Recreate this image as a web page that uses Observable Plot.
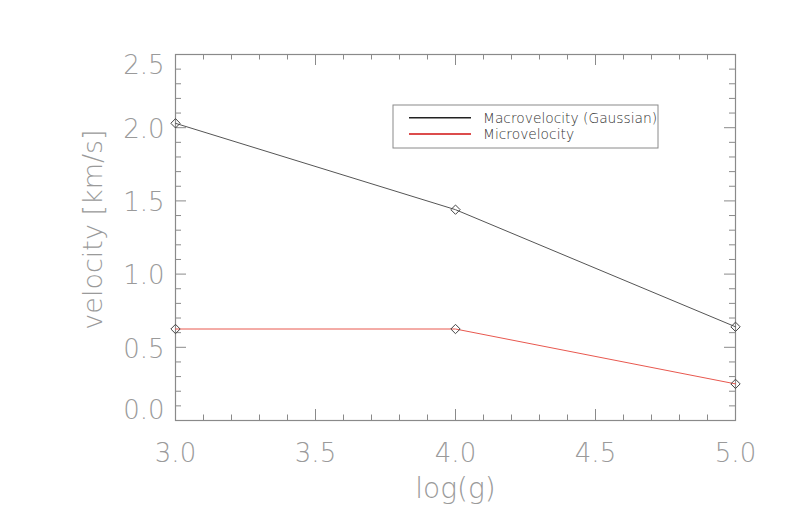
<!DOCTYPE html>
<html><head><meta charset="utf-8">
<script src="https://cdn.jsdelivr.net/npm/d3@7"></script>
<script src="https://cdn.jsdelivr.net/npm/@observablehq/plot@0.6"></script>
<style>body{margin:0;background:#fff}#chart{width:786px;height:531px}</style>
</head><body><div id="chart"></div>
<script>
// ---- data ----
const logg = [3.0, 4.0, 5.0];
const macroVel = [2.03, 1.44, 0.64];
const microVel = [0.625, 0.625, 0.25];
const seriesNames = ["Macrovelocity (Gaussian)", "Microvelocity"];
const seriesColors = ["#555555", "#e8584f"];
const xMajor = [3.0, 3.5, 4.0, 4.5, 5.0];
const xMinor = [3.1, 3.2, 3.3, 3.4, 3.6, 3.7, 3.8, 3.9, 4.1, 4.2, 4.3, 4.4, 4.6, 4.7, 4.8, 4.9];
const yMajor = [0.0, 0.5, 1.0, 1.5, 2.0, 2.5];
const yMinor = [0.1, 0.2, 0.3, 0.4, 0.6, 0.7, 0.8, 0.9, 1.1, 1.2, 1.3, 1.4, 1.6, 1.7, 1.8, 1.9, 2.1, 2.2, 2.3, 2.4];
const xTitle = "log(g)";
const yTitle = "velocity [km/s]";

const macro = logg.map((x, i) => ({x, y: macroVel[i]}));
const micro = logg.map((x, i) => ({x, y: microVel[i]}));

const W = 786, H = 531, mL = 175, mR = 51, mT = 54, mB = 111;
const pw = W - mL - mR, ph = H - mT - mB;
const axisCol = "#8a8a8a";
const font = {fontFamily: "'DejaVu Sans', sans-serif", fontWeight: 200, fill: "#9a9a9a"};

const plot = Plot.plot({
  width: W, height: H,
  marginLeft: mL, marginRight: mR, marginTop: mT, marginBottom: mB,
  x: {domain: [3, 5]},
  y: {domain: [0, 2.5]},
  style: {background: "#fff", fontFamily: "'DejaVu Sans', sans-serif"},
  marks: [
    // ticks on all four sides, pointing inward
    Plot.tickX(xMinor, {x: d => d, insetTop: ph - 5.5, stroke: axisCol}),
    Plot.tickX(xMinor, {x: d => d, insetBottom: ph - 5.5, stroke: axisCol}),
    Plot.tickX(xMajor, {x: d => d, insetTop: ph - 11, stroke: axisCol}),
    Plot.tickX(xMajor, {x: d => d, insetBottom: ph - 11, stroke: axisCol}),
    Plot.tickY(yMinor, {y: d => d, insetRight: pw - 6, stroke: axisCol}),
    Plot.tickY(yMinor, {y: d => d, insetLeft: pw - 6, stroke: axisCol}),
    Plot.tickY(yMajor, {y: d => d, insetRight: pw - 11, stroke: axisCol}),
    Plot.tickY(yMajor, {y: d => d, insetLeft: pw - 11, stroke: axisCol}),
    Plot.frame({stroke: axisCol, strokeWidth: 1.2}),
    // tick labels
    Plot.axisX(xMajor, {tickSize: 0, tickPadding: 23, fontSize: 26, label: null, tickFormat: d3.format(".1f"), ...font}),
    Plot.axisY(yMajor.slice(1, 5), {tickSize: 0, tickPadding: 11, fontSize: 26, label: null, dy: 2, tickFormat: d3.format(".1f"), ...font}),
    Plot.axisY([yMajor[0]], {tickSize: 0, tickPadding: 11, fontSize: 26, label: null, dy: -10, tickFormat: d3.format(".1f"), ...font}),
    Plot.axisY([yMajor[5]], {tickSize: 0, tickPadding: 11, fontSize: 26, label: null, dy: 11, tickFormat: d3.format(".1f"), ...font}),
    // axis titles
    Plot.text([xTitle], {text: d => d, frameAnchor: "bottom", dy: 69, fontSize: 28, lineAnchor: "middle", textAnchor: "middle", ...font}),
    Plot.text([yTitle], {text: d => d, frameAnchor: "left", dx: -82, dy: -8, rotate: -90, fontSize: 27, lineAnchor: "middle", textAnchor: "middle", ...font}),
    // data
    Plot.line(macro, {x: "x", y: "y", stroke: seriesColors[0], strokeWidth: 1}),
    Plot.line(micro, {x: "x", y: "y", stroke: seriesColors[1], strokeWidth: 1}),
    Plot.dot(macro, {x: "x", y: "y", symbol: "diamond2", r: 4.2, stroke: "#444", strokeWidth: 1, fill: "none"}),
    Plot.dot(micro, {x: "x", y: "y", symbol: "diamond2", r: 4.2, stroke: "#444", strokeWidth: 1, fill: "none"})
  ]
});

// legend box inside plot
const svg = d3.select(plot);
const lg = svg.append("g").attr("transform", "translate(393,105)");
lg.append("rect").attr("width", 265).attr("height", 43).attr("fill", "#fff").attr("stroke", axisCol).attr("stroke-width", 1);
const legendColors = ["#222", "#d01010"];
seriesNames.forEach((name, i) => {
  const y = 12.7 + i * 16.3;
  lg.append("line").attr("x1", 16).attr("x2", 78).attr("y1", y).attr("y2", y).attr("stroke", legendColors[i]).attr("stroke-width", 1.4);
  lg.append("text").attr("x", 90).attr("y", y).attr("dy", "0.35em").attr("text-anchor", "start")
    .attr("font-family", "'DejaVu Sans', sans-serif").attr("font-size", 13.8).attr("font-weight", 300)
    .attr("fill", "#333").text(name);
});
document.getElementById("chart").appendChild(plot);
</script>
</body></html>
